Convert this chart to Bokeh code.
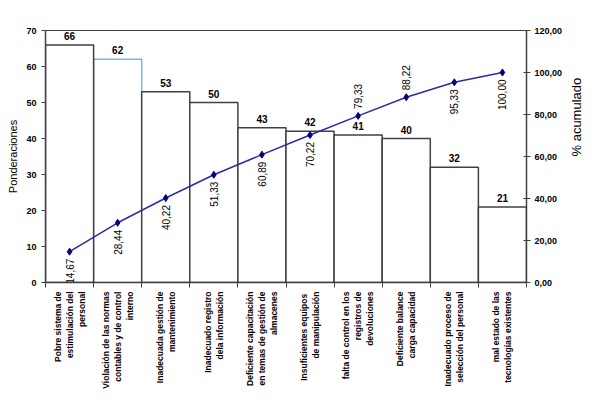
import math
from bokeh.plotting import figure
from bokeh.models import (ColumnDataSource, Range1d, LinearAxis, FixedTicker)
from bokeh.core.properties import value
from bokeh.embed import file_html
from bokeh.resources import INLINE

categories = [
    "Pobre sistema de\nestimulación del\npersonal",
    "Violación de las normas\ncontables y de control\ninterno",
    "Inadecuada gestión de\nmantenimiento",
    "Inadecuado registro\ndela información",
    "Deficiente capacitación\nen temas de gestión de\nalmacenes",
    "Insuficientes  equipos\nde manipulación",
    "falta de control en los\nregistros de\ndevoluciones",
    "Deficiente balance\ncarga capacidad",
    "Inadecuado proceso de\nselección del personal",
    "mal estado de las\ntecnologías existentes",
]
ponderaciones = [66, 62, 53, 50, 43, 42, 41, 40, 32, 21]
acumulado = [14.67, 28.44, 40.22, 51.33, 60.89, 70.22, 79.33, 88.22, 95.33, 100.00]
acumulado_labels = ["14,67", "28,44", "40,22", "51,33", "60,89",
                    "70,22", "79,33", "88,22", "95,33", "100,00"]
left_ticks = [0, 10, 20, 30, 40, 50, 60, 70]
right_ticks = [0, 20, 40, 60, 80, 100, 120]
right_tick_labels = ["0,00", "20,00", "40,00", "60,00", "80,00", "100,00", "120,00"]

# styling lists
label_side = ["below", "below", "below", "below", "below",
              "below", "above", "above", "below", "below"]
bar_line_colors = ["#404040", "#7FB2E5"] + ["#404040"] * 8

FONT = "Liberation Sans"
n = len(categories)
xs = list(range(1, n + 1))

p = figure(width=594, height=393, output_backend="svg", toolbar_location=None,
           x_range=Range1d(0.5, n + 0.5), y_range=Range1d(0, 70),
           min_border_left=45, min_border_top=30, min_border_right=67,
           min_border_bottom=111)
p.extra_y_ranges = {"pct": Range1d(0, 120)}
p.xgrid.visible = False
p.ygrid.visible = False
p.outline_line_color = "#404040"
p.outline_line_width = 1
p.background_fill_color = "white"

# bars (draw second bar first so neighbours' dark edges sit on top)
order = [1, 0] + list(range(2, n))
bar_src = ColumnDataSource(dict(
    x=[xs[i] for i in order],
    top=[ponderaciones[i] for i in order],
    lc=[bar_line_colors[i] for i in order],
))
p.vbar(x="x", top="top", width=1.0, bottom=0, source=bar_src,
       fill_color="white", line_color="lc", line_width=1.5)

# bar value labels
val_src = ColumnDataSource(dict(x=xs, y=ponderaciones, t=[str(v) for v in ponderaciones]))
p.text(x="x", y="y", text="t", source=val_src, text_align="center",
       text_baseline="bottom", y_offset=-5, text_font=value(FONT),
       text_font_size="10px", text_font_style="bold", text_color="black")

# cumulative line
line_src = ColumnDataSource(dict(x=xs, y=acumulado, t=acumulado_labels))
p.line(x="x", y="y", source=line_src, y_range_name="pct",
       line_color="#2B2BA6", line_width=1.5)
p.scatter(x="x", y="y", source=line_src, y_range_name="pct", marker="diamond",
          size=7, fill_color="#000080", line_color="#000080")

below_idx = [i for i in range(n) if label_side[i] == "below"]
above_idx = [i for i in range(n) if label_side[i] == "above"]
for idx, align, off in ((below_idx, "right", 7), (above_idx, "left", -7)):
    src = ColumnDataSource(dict(x=[xs[i] for i in idx],
                                y=[acumulado[i] for i in idx],
                                t=[acumulado_labels[i] for i in idx]))
    p.text(x="x", y="y", text="t", source=src, y_range_name="pct",
           angle=math.pi / 2, text_align=align, text_baseline="middle",
           y_offset=off, text_font=value(FONT), text_font_size="10px",
           text_color="black")

# axes styling
axis_color = "#404040"
# bottom axis
xa = p.xaxis[0]
xa.ticker = FixedTicker(ticks=xs, minor_ticks=[i + 0.5 for i in range(0, n + 1)])
xa.major_label_overrides = {x: c for x, c in zip(xs, categories)}
xa.major_label_orientation = math.pi / 2
xa.major_label_text_align = "center"
xa.major_tick_out = 0
xa.major_tick_in = 0
xa.minor_tick_out = 5
xa.minor_tick_in = 0
xa.minor_tick_line_color = axis_color
xa.axis_line_color = axis_color
xa.axis_line_width = 1.5
xa.major_label_text_font = FONT
xa.major_label_text_font_size = "8.5px"
xa.major_label_text_font_style = "bold"
xa.major_label_text_color = "black"
xa.major_label_standoff = 4

# left axis
ya = p.yaxis[0]
ya.ticker = FixedTicker(ticks=left_ticks)
ya.minor_tick_line_color = None
ya.major_tick_out = 4
ya.major_tick_in = 0
ya.major_tick_line_color = axis_color
ya.axis_line_color = axis_color
ya.axis_line_width = 1.5
ya.major_label_text_font = FONT
ya.major_label_text_font_size = "9px"
ya.major_label_text_font_style = "bold"
ya.major_label_text_color = "black"
ya.major_label_standoff = 5
ya.axis_label = "Ponderaciones"
ya.axis_label_text_font = FONT
ya.axis_label_text_font_size = "11px"
ya.axis_label_text_font_style = "normal"
ya.axis_label_text_color = "black"
ya.axis_label_standoff = 4

# right axis
ra = LinearAxis(y_range_name="pct", ticker=FixedTicker(ticks=right_ticks))
ra.major_label_overrides = {t: l for t, l in zip(right_ticks, right_tick_labels)}
ra.minor_tick_line_color = None
ra.major_tick_out = 4
ra.major_tick_in = 3
ra.major_tick_line_color = axis_color
ra.axis_line_color = axis_color
ra.axis_line_width = 1.5
ra.major_label_text_font = FONT
ra.major_label_text_font_size = "9px"
ra.major_label_text_font_style = "bold"
ra.major_label_text_color = "black"
ra.major_label_standoff = 4
ra.axis_label = "% acumulado"
ra.axis_label_text_font = FONT
ra.axis_label_text_font_size = "13px"
ra.axis_label_text_font_style = "normal"
ra.axis_label_text_color = "black"
ra.axis_label_standoff = 11
if hasattr(ra, "axis_label_orientation"):
    ra.axis_label_orientation = math.pi / 2
p.add_layout(ra, "right")

open("out.html", "w").write(file_html(p, INLINE))
